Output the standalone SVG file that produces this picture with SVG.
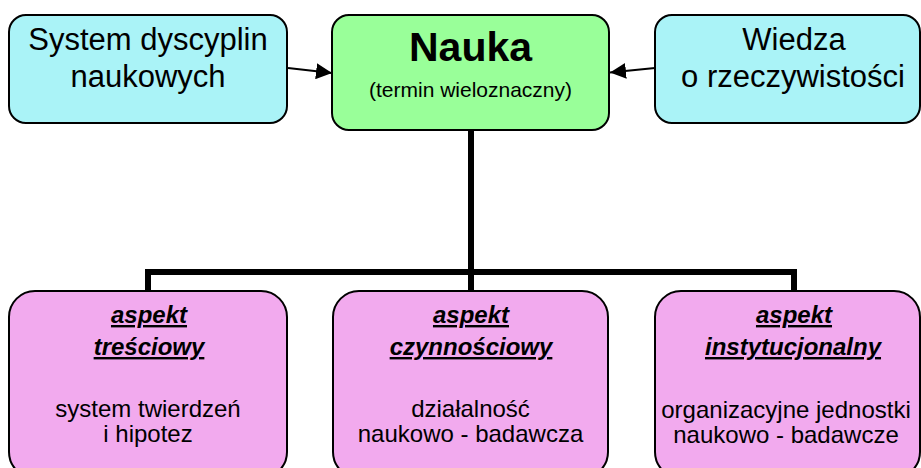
<svg xmlns="http://www.w3.org/2000/svg" width="921" height="468" viewBox="0 0 921 468">
<style>
.box{stroke:#000;stroke-width:2}
.cyan{fill:#AAF3F7}
.green{fill:#99FF99}
.pink{fill:#F2AAEE}
text{font-family:"Liberation Sans",Arial,sans-serif;fill:#000;text-anchor:middle}
.big{font-size:31px}
.title{font-size:41px;font-weight:bold}
.sub{font-size:21px}
.head{font-size:24px;font-weight:bold;font-style:italic;text-decoration:underline}
.body{font-size:24px}
.tree{fill:none;stroke:#000;stroke-width:6;stroke-linejoin:miter;stroke-linecap:butt}
.arrow{fill:none;stroke:#000;stroke-width:2}
</style>
<defs>
<marker id="ah" viewBox="0 0 16 16" refX="16" refY="8" markerWidth="16" markerHeight="16" markerUnits="userSpaceOnUse" orient="auto">
<path d="M0 0 L16 8 L0 16 Z" fill="#000"/>
</marker>
</defs>
<g id="connectors">
<path class="tree" d="M471 130 V272"/>
<path class="tree" d="M148 292 V272 H794 V292"/>
<path class="tree" d="M471 272 V292"/>
<line class="arrow" x1="288" y1="68" x2="332" y2="73" marker-end="url(#ah)"/>
<line class="arrow" x1="655" y1="68" x2="610" y2="72.5" marker-end="url(#ah)"/>
</g>
<g id="system">
<rect class="box cyan" x="9" y="15" width="278" height="108" rx="17"/>
<text class="big" x="148" y="50">System dyscyplin</text>
<text class="big" x="148" y="87">naukowych</text>
</g>
<g id="nauka">
<rect class="box green" x="332" y="15" width="277" height="115" rx="17"/>
<text class="title" x="470.5" y="61">Nauka</text>
<text class="sub" x="470.5" y="97">(termin wieloznaczny)</text>
</g>
<g id="wiedza">
<rect class="box cyan" x="655" y="15" width="265" height="108" rx="17"/>
<text class="big" x="794" y="50">Wiedza</text>
<text class="big" x="793" y="87">o rzeczywistości</text>
</g>
<g id="tresciowy">
<rect class="box pink" x="9" y="291" width="278" height="187" rx="26"/>
<text class="head" x="149" y="323">aspekt</text>
<text class="head" x="149" y="355">treściowy</text>
<text class="body" x="148" y="417">system twierdzeń</text>
<text class="body" x="148" y="442">i hipotez</text>
</g>
<g id="czynnosciowy">
<rect class="box pink" x="333" y="291" width="275" height="187" rx="26"/>
<text class="head" x="471" y="323">aspekt</text>
<text class="head" x="471" y="355">czynnościowy</text>
<text class="body" x="470.5" y="417">działalność</text>
<text class="body" x="470.5" y="442">naukowo - badawcza</text>
</g>
<g id="instytucjonalny">
<rect class="box pink" x="655" y="291" width="265" height="187" rx="26"/>
<text class="head" x="794" y="323">aspekt</text>
<text class="head" x="793" y="355">instytucjonalny</text>
<text class="body" x="786" y="418">organizacyjne jednostki</text>
<text class="body" x="786" y="443">naukowo - badawcze</text>
</g>
</svg>
